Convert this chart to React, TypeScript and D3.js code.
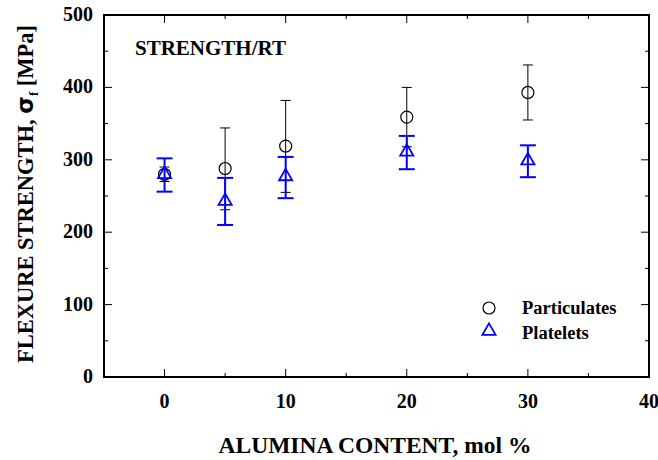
import React from "react";
import * as d3 from "d3";

const content = [0, 5, 10, 20, 30];
const particulates = [280, 288, 319, 359, 393];
const partLow = [270, 231, 255, 318, 355];
const partHigh = [290, 344, 382, 400, 431];
const platelets = [280, 243, 277, 311, 299];
const platLow = [256, 210, 247, 287, 276];
const platHigh = [302, 275, 304, 333, 320];

const xMajor = [0, 10, 20, 30, 40];
const xMinor = [-5, 5, 15, 25, 35];
const yMajor = [0, 100, 200, 300, 400, 500];
const yMinor = [50, 150, 250, 350, 450];

const W = 658;
const H = 460;
const m = { left: 104, right: 9, top: 15, bottom: 83 };
const ts = (size: number): React.CSSProperties => ({ fontFamily: "Liberation Serif", fontWeight: "bold", fontSize: size });

export default function App() {
  const x = d3.scaleLinear().domain([-5, 40]).range([m.left, W - m.right]);
  const y = d3.scaleLinear().domain([0, 500]).range([H - m.bottom, m.top]);
  const [x0, x1] = x.range();
  const [y0, y1] = y.range();
  const tri = d3.symbol(d3.symbolTriangle, 75)();

  return (
    <svg width={W} height={H} style={{ position: "absolute", left: 0, top: 0 }}>
      <rect x={x0} y={y1} width={x1 - x0} height={y0 - y1} fill="none" stroke="#000" strokeWidth={2} />
      {xMajor.map((v) => (
        <g key={"xm" + v}>
          <line x1={x(v)} x2={x(v)} y1={y0} y2={y0 - 8} stroke="#000" />
          <line x1={x(v)} x2={x(v)} y1={y1} y2={y1 + 8} stroke="#000" />
          <text x={x(v)} y={y0 + 31} textAnchor="middle" style={ts(20)}>{v}</text>
        </g>
      ))}
      {xMinor.map((v) => (
        <g key={"xn" + v}>
          <line x1={x(v)} x2={x(v)} y1={y0} y2={y0 - 4} stroke="#000" />
          <line x1={x(v)} x2={x(v)} y1={y1} y2={y1 + 4} stroke="#000" />
        </g>
      ))}
      {yMajor.map((v) => (
        <g key={"ym" + v}>
          <line x1={x0} x2={x0 + 8} y1={y(v)} y2={y(v)} stroke="#000" />
          <line x1={x1} x2={x1 - 8} y1={y(v)} y2={y(v)} stroke="#000" />
          <text x={x0 - 11} y={y(v)} dy="0.3em" textAnchor="end" style={ts(20)}>{v}</text>
        </g>
      ))}
      {yMinor.map((v) => (
        <g key={"yn" + v}>
          <line x1={x0} x2={x0 + 4} y1={y(v)} y2={y(v)} stroke="#000" />
          <line x1={x1} x2={x1 - 4} y1={y(v)} y2={y(v)} stroke="#000" />
        </g>
      ))}

      {content.map((c, i) => (
        <g key={"p" + c}>
          <line x1={x(c)} x2={x(c)} y1={y(partLow[i])} y2={y(partHigh[i])} stroke="#000" strokeWidth={1} />
          <line x1={x(c) - 5} x2={x(c) + 5} y1={y(partLow[i])} y2={y(partLow[i])} stroke="#000" />
          <line x1={x(c) - 5} x2={x(c) + 5} y1={y(partHigh[i])} y2={y(partHigh[i])} stroke="#000" />
        </g>
      ))}
      {content.map((c, i) => (
        <g key={"t" + c}>
          <line x1={x(c)} x2={x(c)} y1={y(platLow[i])} y2={y(platHigh[i])} stroke="#0000ff" strokeWidth={2} />
          <line x1={x(c) - 8} x2={x(c) + 8} y1={y(platLow[i])} y2={y(platLow[i])} stroke="#0000ff" strokeWidth={2} />
          <line x1={x(c) - 8} x2={x(c) + 8} y1={y(platHigh[i])} y2={y(platHigh[i])} stroke="#0000ff" strokeWidth={2} />
        </g>
      ))}
      {content.map((c, i) => (
        <circle key={"c" + c} cx={x(c)} cy={y(particulates[i])} r={6} fill="none" stroke="#000" strokeWidth={1.2} />
      ))}
      {content.map((c, i) => (
        <path key={"tr" + c} d={tri} transform={`translate(${x(c)},${y(platelets[i])})`} fill="none" stroke="#0000ff" strokeWidth={1.8} />
      ))}

      <text x={135} y={55} style={ts(21)}>STRENGTH/RT</text>

      <circle cx={489} cy={308} r={6} fill="none" stroke="#000" strokeWidth={1.2} />
      <text x={522} y={314} style={ts(18.5)}>Particulates</text>
      <path d={tri} transform="translate(489,331)" fill="none" stroke="#0000ff" strokeWidth={1.8} />
      <text x={522} y={339} style={ts(18.5)}>Platelets</text>

      <text x={375} y={453} textAnchor="middle" style={ts(23.5)}>ALUMINA CONTENT, mol %</text>
      <text transform="translate(33,194) rotate(-90)" textAnchor="middle" style={ts(22.5)}>
        FLEXURE STRENGTH, <tspan style={{ fontFamily: "DejaVu Sans" }}>σ</tspan>
        <tspan style={{ fontSize: 13 }} dy={5}>f</tspan>
        <tspan dy={-5}> [MPa]</tspan>
      </text>
    </svg>
  );
}
